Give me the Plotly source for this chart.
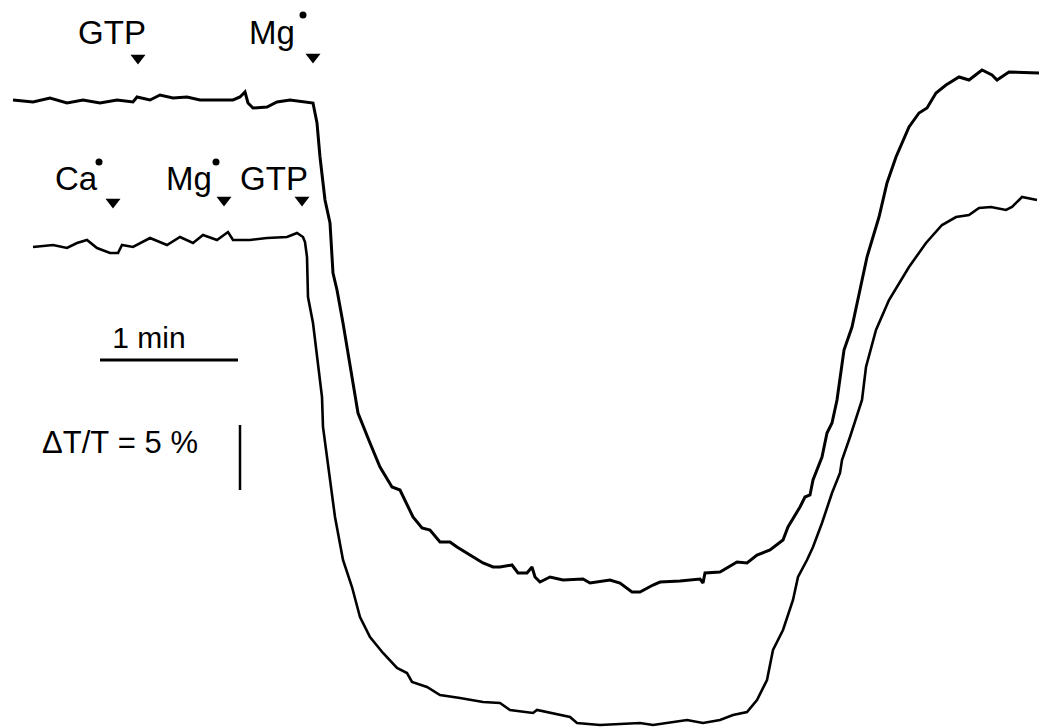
import plotly.graph_objects as go

# Trace readings (time axis in chart-paper units, signal axis downward = lower transmittance)
upper_t = [13, 33, 50, 67, 83, 100, 117, 133, 137, 150, 160, 173, 187, 200, 217, 233, 240, 245, 248, 253,
           267, 277, 290, 313, 317, 320, 325, 330, 333, 337, 343, 350, 355, 358, 370, 380, 392, 400, 413, 422,
           430, 440, 450, 457, 470, 483, 493, 500, 512, 518, 527, 532, 535, 540, 550, 563, 583, 590, 610, 620,
           632, 640, 653, 660, 680, 700, 703, 705, 720, 737, 747, 757, 770, 783, 788, 800, 805, 810, 813, 822,
           827, 832, 837, 844, 852, 859, 867, 879, 887, 896, 909, 919, 927, 936, 946, 959, 969, 982, 992, 997,
           1009, 1039]
upper_sig = [100, 102, 98, 103, 100, 103, 100, 102, 97, 100, 95, 98, 97, 100, 100, 100, 97, 92, 103, 108,
             107, 102, 100, 103, 123, 157, 200, 223, 273, 290, 323, 367, 397, 413, 443, 467, 487, 490, 517, 528,
             530, 542, 542, 547, 555, 563, 567, 567, 565, 573, 573, 567, 577, 582, 577, 580, 579, 583, 580, 583,
             592, 592, 585, 582, 581, 579, 583, 573, 572, 562, 563, 555, 550, 540, 527, 507, 497, 495, 480, 457,
             433, 423, 400, 350, 327, 293, 257, 217, 183, 157, 127, 113, 108, 93, 85, 77, 80, 70, 75, 80,
             72, 73]

lower_t = [33, 53, 67, 77, 87, 97, 110, 118, 122, 133, 150, 167, 180, 193, 203, 217, 228, 233, 250, 267,
           287, 297, 303, 305, 307, 308, 313, 317, 322, 323, 330, 335, 343, 352, 360, 370, 383, 397, 407, 412,
           427, 440, 460, 483, 500, 510, 533, 537, 570, 577, 600, 640, 653, 673, 687, 703, 720, 733, 747, 757,
           767, 773, 783, 793, 798, 807, 813, 822, 832, 840, 842, 850, 862, 866, 876, 889, 909, 926, 942, 956,
           969, 979, 991, 1006, 1012, 1022, 1037]
lower_sig = [247, 245, 248, 243, 240, 248, 253, 253, 245, 247, 238, 245, 237, 243, 235, 240, 232, 240, 240, 238,
             237, 233, 237, 242, 257, 297, 323, 357, 397, 427, 483, 517, 560, 587, 617, 637, 653, 668, 673, 682,
             687, 695, 698, 702, 703, 710, 713, 710, 717, 723, 725, 723, 725, 722, 720, 723, 720, 715, 712, 700,
             680, 650, 630, 600, 577, 560, 547, 523, 493, 473, 460, 437, 400, 367, 330, 300, 267, 243, 225, 217,
             215, 208, 207, 210, 207, 197, 200]

# Additions (labels, arrow positions)
add_labels = ["GTP", "Mg", "Ca", "Mg", "GTP"]
add_label_t = [112, 272, 76, 189, 274]
add_label_sig = [36, 36, 182, 182, 182]
arrow_t = [138, 313, 113, 224, 302]
arrow_sig = [58, 57, 202, 200, 200]
dot_t = [303, 99, 216]
dot_sig = [15, 162, 162]

# Scale bars
time_bar_t = [100, 238]
time_bar_sig = [360, 360]
time_bar_label = "1 min"
amp_bar_t = [240, 240]
amp_bar_sig = [425, 490]
amp_bar_label = "\u0394T/T\u00a0=\u00a05\u00a0%"

FONT = "Liberation Sans"
fig = go.Figure()
fig.add_trace(go.Scatter(x=upper_t, y=upper_sig, mode="lines",
                         line=dict(color="black", width=3), hoverinfo="skip"))
fig.add_trace(go.Scatter(x=lower_t, y=lower_sig, mode="lines",
                         line=dict(color="black", width=2.6), hoverinfo="skip"))
fig.add_trace(go.Scatter(x=arrow_t, y=arrow_sig, mode="markers",
                         marker=dict(symbol="triangle-down", size=13, color="black"), hoverinfo="skip"))
fig.add_trace(go.Scatter(x=dot_t, y=dot_sig, mode="markers",
                         marker=dict(symbol="circle", size=7, color="black"), hoverinfo="skip"))
fig.add_trace(go.Scatter(x=add_label_t, y=add_label_sig, mode="text", text=add_labels,
                         textfont=dict(family=FONT, size=33, color="black"), hoverinfo="skip"))
fig.add_trace(go.Scatter(x=time_bar_t, y=time_bar_sig, mode="lines",
                         line=dict(color="black", width=3), hoverinfo="skip"))
fig.add_trace(go.Scatter(x=amp_bar_t, y=amp_bar_sig, mode="lines",
                         line=dict(color="black", width=2.5), hoverinfo="skip"))
fig.add_trace(go.Scatter(x=[149], y=[340], mode="text", text=[time_bar_label],
                         textfont=dict(family=FONT, size=30, color="black"), hoverinfo="skip"))
fig.add_trace(go.Scatter(x=[120], y=[445], mode="text", text=[amp_bar_label],
                         textfont=dict(family=FONT, size=31, color="black"), hoverinfo="skip"))

fig.update_layout(
    width=1039, height=727,
    margin=dict(l=0, r=0, t=0, b=0),
    paper_bgcolor="white", plot_bgcolor="white",
    showlegend=False,
    hovermode=False,
    xaxis=dict(range=[0, 1039], visible=False, fixedrange=True),
    yaxis=dict(range=[727, 0], visible=False, fixedrange=True),
)
fig.write_html("out.html", config={"displayModeBar": False},
               post_script="document.body.style.margin='0';")
